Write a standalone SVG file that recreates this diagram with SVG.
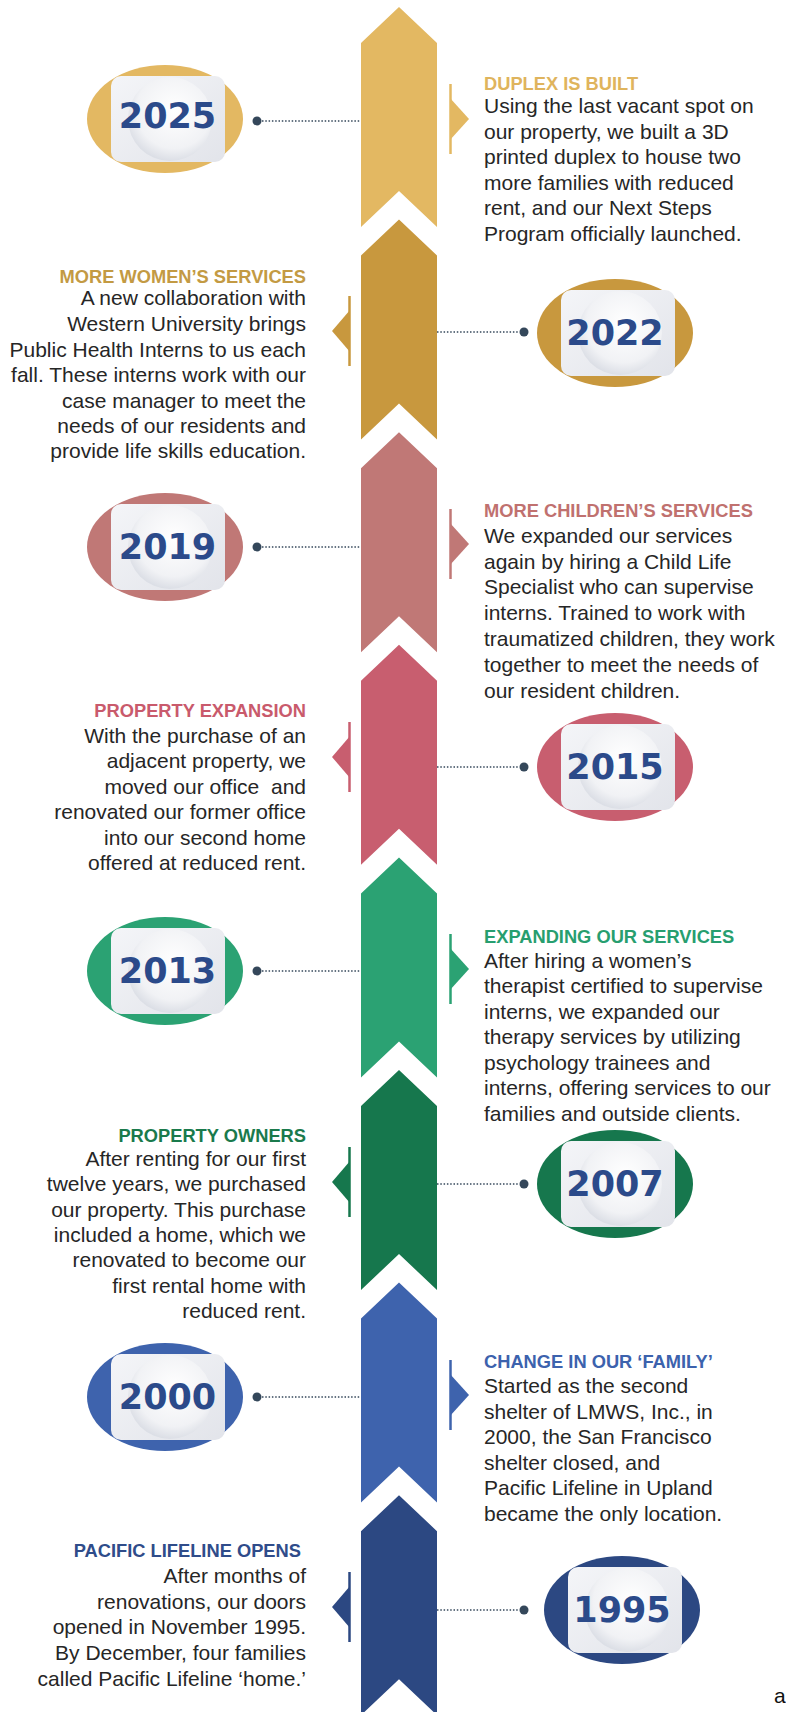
<svg xmlns="http://www.w3.org/2000/svg" width="786" height="1712" viewBox="0 0 786 1712">
<defs>
<style>
.body{font-family:"Liberation Sans",Arial,sans-serif;font-size:21px;fill:#262626}
.hd{font-family:"Liberation Sans",Arial,sans-serif;font-weight:700;font-size:18.3px}
.yr{font-family:"DejaVu Sans",sans-serif;font-weight:700;font-size:35px;fill:#2b4a8a;text-anchor:middle}
.l{text-anchor:end}
.dots{stroke:#34475a;stroke-width:1.7;stroke-dasharray:1.5 1.8;fill:none}
.dot{fill:#34475a}
</style>
<linearGradient id="sq" x1="0" y1="0" x2="1" y2="1">
<stop offset="0" stop-color="#f4f5f8"/><stop offset="1" stop-color="#e2e4ea"/>
</linearGradient>
<radialGradient id="plate" cx="0.55" cy="0.4" r="0.6">
<stop offset="0" stop-color="#ffffff"/><stop offset="0.75" stop-color="#f1f2f5"/><stop offset="1" stop-color="#dcdfe6"/>
</radialGradient>
</defs>
<rect width="786" height="1712" fill="#ffffff"/>

<g id="timeline">
<path d="M399,7 L437,43 L437,227 L399,191 L361,227 L361,43 Z" fill="#e3b862"/>
<path d="M399,219.6 L437,255.6 L437,439.6 L399,403.6 L361,439.6 L361,255.6 Z" fill="#c8983e"/>
<path d="M399,432.2 L437,468.2 L437,652.2 L399,616.2 L361,652.2 L361,468.2 Z" fill="#c07876"/>
<path d="M399,644.8 L437,680.8 L437,864.8 L399,828.8 L361,864.8 L361,680.8 Z" fill="#c85e6f"/>
<path d="M399,857.4 L437,893.4 L437,1077.4 L399,1041.4 L361,1077.4 L361,893.4 Z" fill="#2ba273"/>
<path d="M399,1070 L437,1106 L437,1290 L399,1254 L361,1290 L361,1106 Z" fill="#16774d"/>
<path d="M399,1282.6 L437,1318.6 L437,1502.6 L399,1466.6 L361,1502.6 L361,1318.6 Z" fill="#3e63ad"/>
<path d="M399,1495.2 L437,1531.2 L437,1715.2 L399,1679.2 L361,1715.2 L361,1531.2 Z" fill="#2c4882"/>
</g>

<g id="connectors">
<line class="dots" x1="262" y1="121" x2="361" y2="121"/><circle class="dot" cx="257" cy="121" r="4.5"/>
<line class="dots" x1="437" y1="332" x2="519" y2="332"/><circle class="dot" cx="524" cy="332" r="4.5"/>
<line class="dots" x1="262" y1="547" x2="361" y2="547"/><circle class="dot" cx="257" cy="547" r="4.5"/>
<line class="dots" x1="437" y1="767" x2="519" y2="767"/><circle class="dot" cx="524" cy="767" r="4.5"/>
<line class="dots" x1="262" y1="971" x2="361" y2="971"/><circle class="dot" cx="257" cy="971" r="4.5"/>
<line class="dots" x1="437" y1="1184" x2="519" y2="1184"/><circle class="dot" cx="524" cy="1184" r="4.5"/>
<line class="dots" x1="262" y1="1397" x2="361" y2="1397"/><circle class="dot" cx="257" cy="1397" r="4.5"/>
<line class="dots" x1="437" y1="1610" x2="519" y2="1610"/><circle class="dot" cx="524" cy="1610" r="4.5"/>
</g>

<g id="tabs">
<g fill="#e3b862" stroke="#e3b862"><line x1="450.5" y1="84" x2="450.5" y2="154" stroke-width="2.5"/><path d="M450,98 L469,119 L450,140 Z" stroke="none"/></g>
<g fill="#c8983e" stroke="#c8983e"><line x1="349.5" y1="296" x2="349.5" y2="366" stroke-width="2.5"/><path d="M350,310 L332,331 L350,352 Z" stroke="none"/></g>
<g fill="#c07876" stroke="#c07876"><line x1="450.5" y1="509" x2="450.5" y2="579" stroke-width="2.5"/><path d="M450,523 L469,544 L450,565 Z" stroke="none"/></g>
<g fill="#c85e6f" stroke="#c85e6f"><line x1="349.5" y1="722" x2="349.5" y2="792" stroke-width="2.5"/><path d="M350,736 L332,757 L350,778 Z" stroke="none"/></g>
<g fill="#2ba273" stroke="#2ba273"><line x1="450.5" y1="934" x2="450.5" y2="1004" stroke-width="2.5"/><path d="M450,948 L469,969 L450,990 Z" stroke="none"/></g>
<g fill="#16774d" stroke="#16774d"><line x1="349.5" y1="1147" x2="349.5" y2="1217" stroke-width="2.5"/><path d="M350,1161 L332,1182 L350,1203 Z" stroke="none"/></g>
<g fill="#3e63ad" stroke="#3e63ad"><line x1="450.5" y1="1360" x2="450.5" y2="1430" stroke-width="2.5"/><path d="M450,1374 L469,1395 L450,1416 Z" stroke="none"/></g>
<g fill="#2c4882" stroke="#2c4882"><line x1="349.5" y1="1572" x2="349.5" y2="1642" stroke-width="2.5"/><path d="M350,1586 L332,1607 L350,1628 Z" stroke="none"/></g>
</g>

<g id="year-2025">
<ellipse cx="165" cy="119" rx="78" ry="54" fill="#e3b862"/>
<rect x="111" y="76" width="114" height="86" rx="10" fill="url(#sq)"/>
<circle cx="170" cy="119" r="42" fill="url(#plate)"/>
<text class="yr" x="167.5" y="128">2025</text>
</g>
<g id="event-2025">
<text class="hd" x="484" y="90" fill="#dfb45d">DUPLEX IS BUILT</text>
<text class="body" x="484" y="113">Using the last vacant spot on</text>
<text class="body" x="484" y="138.5">our property, we built a 3D</text>
<text class="body" x="484" y="164">printed duplex to house two</text>
<text class="body" x="484" y="189.5">more families with reduced</text>
<text class="body" x="484" y="215">rent, and our Next Steps</text>
<text class="body" x="484" y="240.5">Program officially launched.</text>
</g>

<g id="year-2022">
<ellipse cx="615" cy="333" rx="78" ry="54" fill="#c8983e"/>
<rect x="561" y="290" width="114" height="86" rx="10" fill="url(#sq)"/>
<circle cx="620" cy="333" r="42" fill="url(#plate)"/>
<text class="yr" x="615" y="345">2022</text>
</g>
<g id="event-2022">
<text class="hd l" x="306" y="283" fill="#c39a43">MORE WOMEN’S SERVICES</text>
<text class="body l" x="306" y="305">A new collaboration with</text>
<text class="body l" x="306" y="331">Western University brings</text>
<text class="body l" x="306" y="357">Public Health Interns to us each</text>
<text class="body l" x="306" y="382">fall. These interns work with our</text>
<text class="body l" x="306" y="408">case manager to meet the</text>
<text class="body l" x="306" y="433">needs of our residents and</text>
<text class="body l" x="306" y="458">provide life skills education.</text>
</g>

<g id="year-2019">
<ellipse cx="165" cy="547" rx="78" ry="54" fill="#c07876"/>
<rect x="111" y="504" width="114" height="86" rx="10" fill="url(#sq)"/>
<circle cx="170" cy="547" r="42" fill="url(#plate)"/>
<text class="yr" x="167.5" y="559">2019</text>
</g>
<g id="event-2019">
<text class="hd" x="484" y="517" fill="#c0716f">MORE CHILDREN’S SERVICES</text>
<text class="body" x="484" y="543">We expanded our services</text>
<text class="body" x="484" y="569">again by hiring a Child Life</text>
<text class="body" x="484" y="594">Specialist who can supervise</text>
<text class="body" x="484" y="620">interns. Trained to work with</text>
<text class="body" x="484" y="646">traumatized children, they work</text>
<text class="body" x="484" y="672">together to meet the needs of</text>
<text class="body" x="484" y="698">our resident children.</text>
</g>

<g id="year-2015">
<ellipse cx="615" cy="767" rx="78" ry="54" fill="#c85e6f"/>
<rect x="561" y="724" width="114" height="86" rx="10" fill="url(#sq)"/>
<circle cx="620" cy="767" r="42" fill="url(#plate)"/>
<text class="yr" x="615" y="779">2015</text>
</g>
<g id="event-2015">
<text class="hd l" x="306" y="717" fill="#c95a6c">PROPERTY EXPANSION</text>
<text class="body l" x="306" y="743">With the purchase of an</text>
<text class="body l" x="306" y="768">adjacent property, we</text>
<text class="body l" x="306" y="794" xml:space="preserve">moved our office  and</text>
<text class="body l" x="306" y="819">renovated our former office</text>
<text class="body l" x="306" y="845">into our second home</text>
<text class="body l" x="306" y="870">offered at reduced rent.</text>
</g>

<g id="year-2013">
<ellipse cx="165" cy="971" rx="78" ry="54" fill="#2ba273"/>
<rect x="111" y="928" width="114" height="86" rx="10" fill="url(#sq)"/>
<circle cx="170" cy="971" r="42" fill="url(#plate)"/>
<text class="yr" x="167.5" y="983">2013</text>
</g>
<g id="event-2013">
<text class="hd" x="484" y="943" fill="#279e6f">EXPANDING OUR SERVICES</text>
<text class="body" x="484" y="968">After hiring a women’s</text>
<text class="body" x="484" y="993">therapist certified to supervise</text>
<text class="body" x="484" y="1019">interns, we expanded our</text>
<text class="body" x="484" y="1044">therapy services by utilizing</text>
<text class="body" x="484" y="1070">psychology trainees and</text>
<text class="body" x="484" y="1095">interns, offering services to our</text>
<text class="body" x="484" y="1121">families and outside clients.</text>
</g>

<g id="year-2007">
<ellipse cx="615" cy="1184" rx="78" ry="54" fill="#16774d"/>
<rect x="561" y="1141" width="114" height="86" rx="10" fill="url(#sq)"/>
<circle cx="620" cy="1184" r="42" fill="url(#plate)"/>
<text class="yr" x="615" y="1196">2007</text>
</g>
<g id="event-2007">
<text class="hd l" x="306" y="1142" fill="#1a7a4c">PROPERTY OWNERS</text>
<text class="body l" x="306" y="1166">After renting for our first</text>
<text class="body l" x="306" y="1191">twelve years, we purchased</text>
<text class="body l" x="306" y="1217">our property. This purchase</text>
<text class="body l" x="306" y="1242">included a home, which we</text>
<text class="body l" x="306" y="1267">renovated to become our</text>
<text class="body l" x="306" y="1293">first rental home with</text>
<text class="body l" x="306" y="1318">reduced rent.</text>
</g>

<g id="year-2000">
<ellipse cx="165" cy="1397" rx="78" ry="54" fill="#3e63ad"/>
<rect x="111" y="1354" width="114" height="86" rx="10" fill="url(#sq)"/>
<circle cx="170" cy="1397" r="42" fill="url(#plate)"/>
<text class="yr" x="167.5" y="1409">2000</text>
</g>
<g id="event-2000">
<text class="hd" x="484" y="1368" fill="#3c62ad">CHANGE IN OUR ‘FAMILY’</text>
<text class="body" x="484" y="1393">Started as the second</text>
<text class="body" x="484" y="1419">shelter of LMWS, Inc., in</text>
<text class="body" x="484" y="1444">2000, the San Francisco</text>
<text class="body" x="484" y="1470">shelter closed, and</text>
<text class="body" x="484" y="1495">Pacific Lifeline in Upland</text>
<text class="body" x="484" y="1521">became the only location.</text>
</g>

<g id="year-1995">
<ellipse cx="622" cy="1610" rx="78" ry="54" fill="#2c4882"/>
<rect x="568" y="1567" width="114" height="86" rx="10" fill="url(#sq)"/>
<circle cx="627" cy="1610" r="42" fill="url(#plate)"/>
<text class="yr" x="622" y="1622">1995</text>
</g>
<g id="event-1995">
<text class="hd l" x="306" y="1557" fill="#2f4c8a" xml:space="preserve">PACIFIC LIFELINE OPENS </text>
<text class="body l" x="306" y="1583">After months of</text>
<text class="body l" x="306" y="1609">renovations, our doors</text>
<text class="body l" x="306" y="1634">opened in November 1995.</text>
<text class="body l" x="306" y="1660">By December, four families</text>
<text class="body l" x="306" y="1686">called Pacific Lifeline ‘home.’</text>
</g>

<text class="body" x="774" y="1703" style="fill:#111">a</text>
</svg>
